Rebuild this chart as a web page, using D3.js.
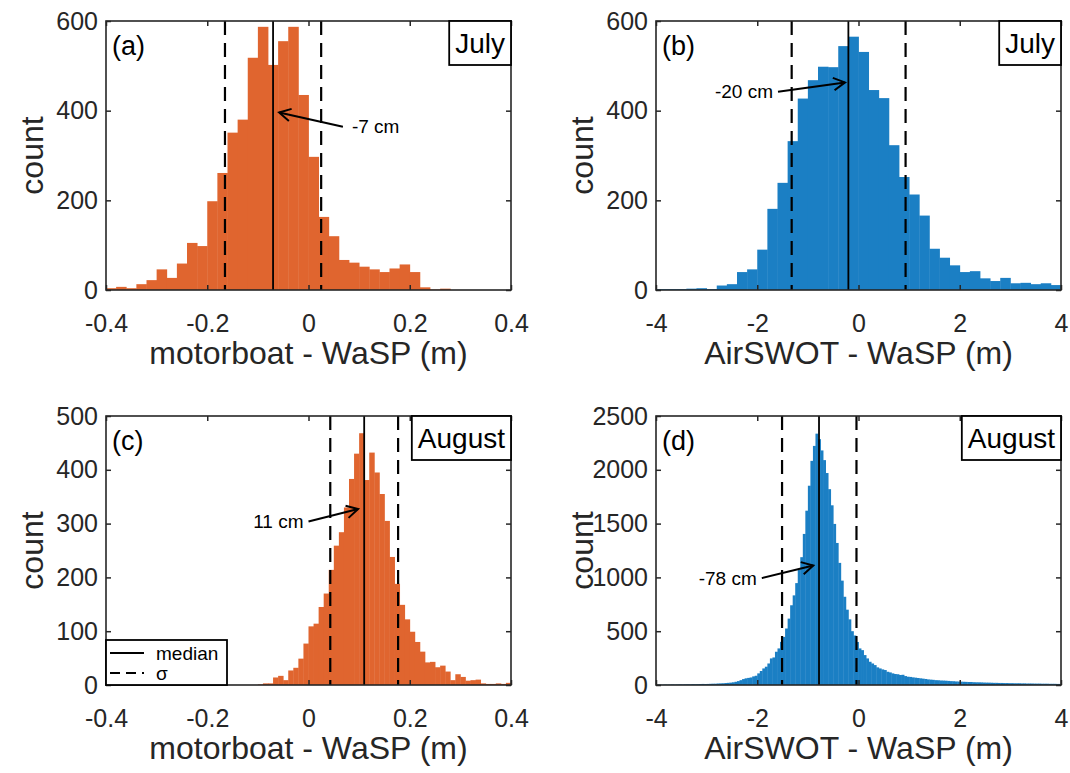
<!DOCTYPE html>
<html>
<head>
<meta charset="utf-8">
<script src="https://cdn.jsdelivr.net/npm/d3@7"></script>
<style>
  html, body { margin: 0; padding: 0; background: #fff; }
  svg { display: block; }
</style>
</head>
<body>
<svg id="fig" width="1070" height="773"></svg>
<script>
// ---- histogram counts (bin width and first edge given per panel) ----
// (a) motorboat - WaSP, July: bins of 0.02 m from -0.4
const countsA = [4, 7, 4, 13, 22, 46, 27, 59, 105, 98,
  198, 261, 351, 380, 518, 587, 502, 555, 587, 435,
  297, 163, 120, 67, 61, 52, 46, 40, 48, 57,
  40, 6, 1, 3, 0, 0, 0, 0, 0, 0];

// (b) AirSWOT - WaSP, July: bins of 0.2 m from -4
const countsB = [2, 2, 2, 3, 4, 2, 10, 13, 40, 46,
  90, 181, 239, 332, 427, 468, 498, 497, 544, 565,
  531, 446, 428, 323, 252, 213, 166, 92, 72, 55,
  40, 42, 26, 20, 27, 15, 16, 13, 15, 11];

// (c) motorboat - WaSP, August: bins of 0.01 m from -0.4
const countsC = [0, 0, 0, 0, 0, 0, 0, 0, 0, 0,
  0, 0, 0, 0, 0, 0, 0, 0, 0, 0,
  0, 0, 0, 0, 0, 0, 0, 0, 0, 0,
  1, 3, 3, 14, 17, 9, 27, 32, 49, 77,
  109, 114, 145, 170, 214, 259, 284, 330, 383, 430,
  468, 381, 432, 395, 355, 305, 238, 188, 149, 122,
  99, 80, 62, 42, 43, 33, 36, 25, 9, 20,
  15, 8, 9, 10, 3, 2, 2, 3, 2, 4];

// (d) AirSWOT - WaSP, August: bins of 0.05 m from -4
const countsD = [2, 3, 2, 4, 3, 4, 5, 4, 5, 6,
  5, 6, 7, 6, 8, 7, 8, 9, 10, 9,
  10, 11, 12, 12, 14, 15, 16, 18, 20, 22,
  25, 30, 36, 45, 55, 62, 66, 70, 80, 86,
  108, 130, 154, 170, 200, 247, 256, 309, 340, 401,
  447, 525, 617, 741, 833, 947, 1071, 1188, 1404, 1620,
  1852, 2083, 2222, 2336, 2285, 2180, 2090, 1970, 1820, 1670,
  1497, 1320, 1135, 970, 820, 700, 610, 500, 460, 400,
  340, 324, 278, 247, 216, 200, 185, 164, 154, 145,
  139, 123, 117, 108, 102, 100, 93, 95, 83, 77,
  75, 71, 68, 65, 62, 59, 56, 52, 50, 48,
  45, 44, 42, 41, 40, 38, 36, 35, 33, 32,
  31, 30, 29, 28, 28, 26, 25, 25, 24, 23,
  22, 22, 21, 20, 20, 19, 19, 18, 18, 17,
  17, 16, 16, 16, 15, 15, 14, 14, 14, 13,
  13, 13, 12, 12, 12, 11, 11, 11, 10, 10];

// ---- medians and ±σ bounds (m) ----
const medians = [-0.07, -0.20, 0.11, -0.78];
const sigmaLo = [-0.165, -1.32, 0.043, -1.51];
const sigmaHi = [0.025, 0.93, 0.177, -0.04];

// ---- tick values ----
const ticksSmallX = [-0.4, -0.2, 0, 0.2, 0.4];
const ticksWideX = [-4, -2, 0, 2, 4];
const ticksY600 = [0, 200, 400, 600];
const ticksY500 = [0, 100, 200, 300, 400, 500];
const ticksY2500 = [0, 500, 1000, 1500, 2000, 2500];

// ---- labels ----
const panelLetters = ["(a)", "(b)", "(c)", "(d)"];
const months = ["July", "July", "August", "August"];
const xTitles = ["motorboat - WaSP (m)", "AirSWOT - WaSP (m)", "motorboat - WaSP (m)", "AirSWOT - WaSP (m)"];
const legendItems = ["median", "\u03c3"];

// annotation arrows in data units: tail (label end) and tip
const arrows = [
  { tail: [0.068, 364], tip: [-0.058, 396], side: "right" },
  { tail: [-1.59, 442], tip: [-0.267, 463], side: "left" },
  { tail: [0.0, 304], tip: [0.098, 327], side: "left" },
  { tail: [-1.91, 993], tip: [-0.893, 1111], side: "left" }
];

const ORANGE = "#E0652F";
const BLUE = "#1B7FC4";
const INK = "#262626";
const FONT = "'Liberation Sans', Arial, Helvetica, sans-serif";

const panels = [
  { counts: countsA, x0: -0.4, w: 0.02, dom: [-0.4, 0.4], yMax: 600, xt: ticksSmallX, yt: ticksY600, color: ORANGE, left: 106, top: 21 },
  { counts: countsB, x0: -4, w: 0.2, dom: [-4, 4], yMax: 600, xt: ticksWideX, yt: ticksY600, color: BLUE, left: 656, top: 21 },
  { counts: countsC, x0: -0.4, w: 0.01, dom: [-0.4, 0.4], yMax: 500, xt: ticksSmallX, yt: ticksY500, color: ORANGE, left: 106, top: 416 },
  { counts: countsD, x0: -4, w: 0.05, dom: [-4, 4], yMax: 2500, xt: ticksWideX, yt: ticksY2500, color: BLUE, left: 656, top: 416 }
];
const PW = 405, PH = 269;

const svg = d3.select("#fig");
svg.append("rect").attr("width", 1070).attr("height", 773).attr("fill", "#fff");

panels.forEach((p, i) => {
  const g = svg.append("g").attr("transform", `translate(${p.left},${p.top})`);
  const x = d3.scaleLinear().domain(p.dom).range([0, PW]);
  const y = d3.scaleLinear().domain([0, p.yMax]).range([PH, 0]);

  // histogram bars
  const bins = p.counts.map((c, k) => ({ a: p.x0 + k * p.w, b: p.x0 + (k + 1) * p.w, c }))
    .filter(d => d.c > 0);
  g.append("g").selectAll("rect").data(bins).join("rect")
    .attr("x", d => x(d.a))
    .attr("width", d => x(d.b) - x(d.a) + 0.4)
    .attr("y", d => y(d.c))
    .attr("height", d => y(0) - y(d.c))
    .attr("fill", p.color);

  // median and sigma lines
  g.append("line")
    .attr("x1", x(medians[i])).attr("x2", x(medians[i]))
    .attr("y1", 0).attr("y2", PH)
    .attr("stroke", "#000").attr("stroke-width", 1.8);
  [sigmaLo[i], sigmaHi[i]].forEach(v => {
    g.append("line")
      .attr("x1", x(v)).attr("x2", x(v))
      .attr("y1", 0).attr("y2", PH)
      .attr("stroke", "#000").attr("stroke-width", 2.2)
      .attr("stroke-dasharray", "14,8");
  });

  // axes: ticks point inward and are mirrored on the opposite side
  const tickLen = 5;
  const fmt = v => (v === 0 ? "0" : String(v));
  const axB = g.append("g").attr("transform", `translate(0,${PH})`)
    .call(d3.axisBottom(x).tickValues(p.xt).tickSize(-tickLen).tickPadding(24).tickFormat(fmt));
  const axT = g.append("g")
    .call(d3.axisTop(x).tickValues(p.xt).tickSize(-tickLen).tickFormat(""));
  const axL = g.append("g")
    .call(d3.axisLeft(y).tickValues(p.yt).tickSize(-tickLen).tickPadding(8).tickFormat(fmt));
  const axR = g.append("g").attr("transform", `translate(${PW},0)`)
    .call(d3.axisRight(y).tickValues(p.yt).tickSize(-tickLen).tickFormat(""));
  [axB, axT, axL, axR].forEach(ax => {
    ax.select(".domain").remove();
    ax.selectAll(".tick line").attr("stroke", INK).attr("stroke-width", 1.5);
    ax.selectAll("text").attr("fill", INK).style("font-family", FONT).style("font-size", "25px");
  });

  // frame
  g.append("rect").attr("x", 0).attr("y", 0).attr("width", PW).attr("height", PH)
    .attr("fill", "none").attr("stroke", INK).attr("stroke-width", 1.6);

  // axis titles
  g.append("text")
    .attr("x", PW / 2).attr("y", PH + 63).attr("dy", "0.35em")
    .attr("text-anchor", "middle").attr("fill", INK)
    .style("font-family", FONT).style("font-size", "32px")
    .text(xTitles[i]);
  g.append("text")
    .attr("transform", `translate(-74,${PH / 2}) rotate(-90)`)
    .attr("dy", "0.35em").attr("text-anchor", "middle").attr("fill", INK)
    .style("font-family", FONT).style("font-size", "32px")
    .text("count");

  // panel letter
  g.append("text").attr("x", 6).attr("y", 34).attr("fill", "#000")
    .style("font-family", FONT).style("font-size", "27px").text(panelLetters[i]);

  // month box in the top-right corner
  const mt = g.append("text").attr("fill", "#000")
    .style("font-family", FONT).style("font-size", "28px").text(months[i]);
  const tw = mt.node().getComputedTextLength();
  const bw = tw + 12, bh = 44;
  g.append("rect").attr("x", PW - bw).attr("y", 0).attr("width", bw).attr("height", bh)
    .attr("fill", "#fff").attr("stroke", "#000").attr("stroke-width", 1.8);
  mt.attr("x", PW - bw / 2).attr("y", bh / 2).attr("dy", "0.35em").attr("text-anchor", "middle").raise();

  // median annotation arrow
  const an = arrows[i];
  const tx = x(an.tail[0]), ty = y(an.tail[1]);
  const hx = x(an.tip[0]), hy = y(an.tip[1]);
  g.append("line").attr("x1", tx).attr("y1", ty).attr("x2", hx).attr("y2", hy)
    .attr("stroke", "#000").attr("stroke-width", 2);
  const ang = Math.atan2(hy - ty, hx - tx);
  const hl = 13, spread = 0.5;
  const headPath = d3.path();
  headPath.moveTo(hx - hl * Math.cos(ang - spread), hy - hl * Math.sin(ang - spread));
  headPath.lineTo(hx, hy);
  headPath.lineTo(hx - hl * Math.cos(ang + spread), hy - hl * Math.sin(ang + spread));
  g.append("path").attr("d", headPath.toString()).attr("fill", "none")
    .attr("stroke", "#000").attr("stroke-width", 2).attr("stroke-linejoin", "miter");
  const cm = Math.round(medians[i] * 100);
  g.append("text")
    .attr("x", an.side === "right" ? tx + 9 : tx - 5)
    .attr("y", ty).attr("dy", "0.35em")
    .attr("text-anchor", an.side === "right" ? "start" : "end")
    .attr("fill", "#000").style("font-family", FONT).style("font-size", "19px")
    .text(`${cm} cm`);
});

// legend in panel (c), lower-left corner
{
  const p = panels[2];
  const lg = svg.append("g").attr("transform", `translate(${p.left},${p.top + PH - 45})`);
  lg.append("rect").attr("x", 0).attr("y", 0).attr("width", 121).attr("height", 45)
    .attr("fill", "#fff").attr("stroke", "#000").attr("stroke-width", 1.8);
  legendItems.forEach((t, k) => {
    const yy = 13 + k * 20;
    lg.append("line").attr("x1", 4).attr("x2", 38).attr("y1", yy).attr("y2", yy)
      .attr("stroke", "#000").attr("stroke-width", 2)
      .attr("stroke-dasharray", k === 1 ? "10,6" : null);
    lg.append("text").attr("x", 50).attr("y", yy).attr("dy", "0.35em")
      .attr("fill", "#000").style("font-family", FONT).style("font-size", "19px").text(t);
  });
}
</script>
</body>
</html>
